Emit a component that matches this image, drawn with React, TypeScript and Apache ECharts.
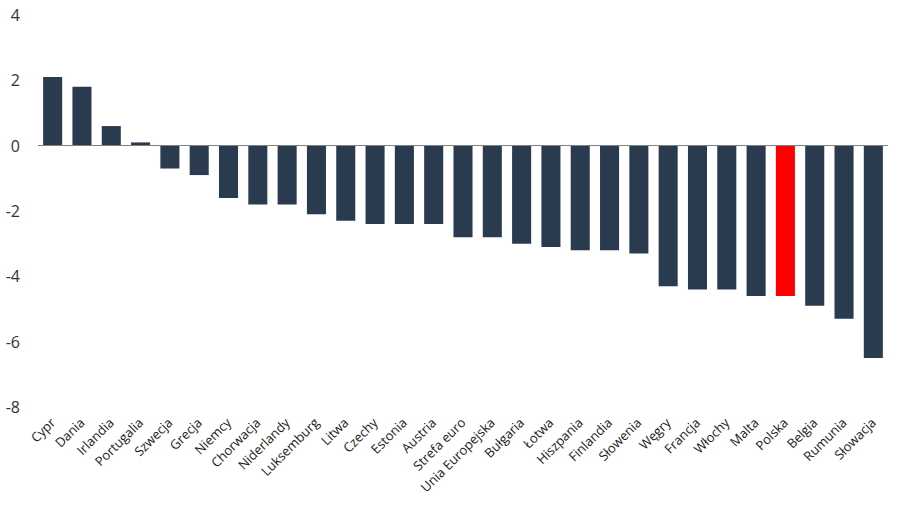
import React, { useEffect, useRef } from "react";
import * as echarts from "echarts";

const categories = [
  "Cypr", "Dania", "Irlandia", "Portugalia", "Szwecja", "Grecja", "Niemcy",
  "Chorwacja", "Niderlandy", "Luksemburg", "Litwa", "Czechy", "Estonia",
  "Austria", "Strefa euro", "Unia Europejska", "Bułgaria", "Łotwa",
  "Hiszpania", "Finlandia", "Słowenia", "Węgry", "Francja", "Włochy",
  "Malta", "Polska", "Belgia", "Rumunia", "Słowacja",
];
const values = [
  2.1, 1.8, 0.6, 0.1, -0.7, -0.9, -1.6, -1.8, -1.8, -2.1, -2.3, -2.4, -2.4,
  -2.4, -2.8, -2.8, -3.0, -3.1, -3.2, -3.2, -3.3, -4.3, -4.4, -4.4, -4.6,
  -4.6, -4.9, -5.3, -6.5,
];
const highlighted = ["Polska"];
const yTicks = { min: -8, max: 4, interval: 2 };

const BAR = "#2A3B4F";
const RED = "#FF0000";

export default function App() {
  const ref = useRef<HTMLDivElement>(null);
  useEffect(() => {
    if (!ref.current) return;
    const chart = echarts.init(ref.current, undefined, { renderer: "svg" });
    chart.setOption({
      animation: false,
      backgroundColor: "#ffffff",
      grid: { left: 38, right: 12, top: 15, bottom: 98 },
      xAxis: {
        type: "category",
        data: categories,
        axisLine: { show: false, onZero: false },
        axisTick: { show: false },
        axisLabel: {
          interval: 0,
          rotate: 45,
          margin: 13,
          color: "#1a1a1a",
          fontSize: 13,
          fontFamily: "Open Sans",
        },
      },
      yAxis: {
        type: "value",
        min: yTicks.min,
        max: yTicks.max,
        interval: yTicks.interval,
        splitLine: { show: false },
        axisLine: { show: false },
        axisTick: { show: false },
        axisLabel: {
          color: "#333333",
          fontSize: 16,
          fontFamily: "Open Sans",
          margin: 18,
        },
      },
      series: [
        {
          type: "bar",
          data: values.map((v, i) => ({
            value: v,
            itemStyle: {
              color: highlighted.includes(categories[i]) ? RED : BAR,
            },
          })),
          barCategoryGap: "35%",
          markLine: {
            silent: true,
            symbol: "none",
            label: { show: false },
            lineStyle: { color: "#7f7f7f", type: "solid", width: 1 },
            data: [{ yAxis: 0 }],
          },
        },
      ],
    });
    return () => chart.dispose();
  }, []);
  return (
    <div
      ref={ref}
      style={{ position: "fixed", left: 0, top: 0, width: 900, height: 505 }}
    />
  );
}
